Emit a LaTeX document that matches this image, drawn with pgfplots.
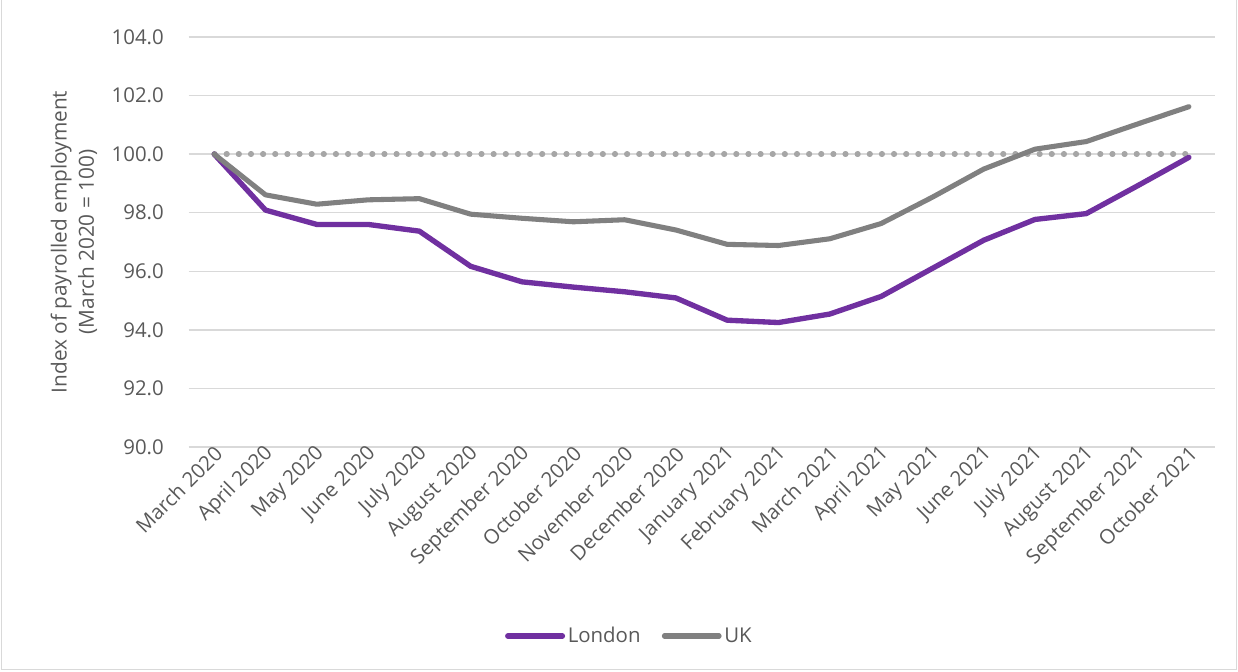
\documentclass[border=0pt]{standalone}
\usepackage{fontspec}
\setmainfont{Open Sans}
\usepackage{pgfplots}
\pgfplotsset{compat=1.18}
\definecolor{lonpurple}{HTML}{7030A0}
\definecolor{ukgrey}{HTML}{808080}
\definecolor{dotgrey}{HTML}{A6A6A6}
\definecolor{gridgrey}{HTML}{D9D9D9}
\definecolor{txtgrey}{HTML}{595959}
\begin{document}
\begin{tikzpicture}
\useasboundingbox (-141.4pt,-168pt) rectangle (787.1pt,335.25pt);
\draw[gridgrey, line width=0.75pt] (-140.4pt,-166.5pt) rectangle (786.1pt,340pt);
\begin{axis}[
  at={(0pt,0pt)}, anchor=south west,
  scale only axis,
  width=769.5pt, height=307.5pt,
  xmin=-0.5, xmax=19.5,
  ymin=90, ymax=104,
  ytick={90,92,...,104},
  xtick={0,...,19},
  xticklabels={March 2020,April 2020,May 2020,June 2020,July 2020,August 2020,September 2020,October 2020,November 2020,December 2020,January 2021,February 2021,March 2021,April 2021,May 2021,June 2021,July 2021,August 2021,September 2021,October 2021},
  axis line style={draw=none},
  major tick length=0pt,
  ymajorgrids,
  grid style={gridgrey, line width=1pt},
  tick label style={font=\fontsize{15.3}{18}\selectfont, text=txtgrey},
  /pgf/number format/assume math mode=true,
  yticklabel={\pgfmathprintnumber[fixed,fixed zerofill,precision=1]{\tick}},
  yticklabel style={anchor=east, xshift=-15pt},
  xticklabel style={rotate=45, anchor=east, yshift=-4pt, xshift=4pt},
  ylabel={Index of payrolled employment\\(March 2020 = 100)},
  every axis y label/.style={at={(rel axis cs:0,0.5)}, xshift=-86pt, rotate=90, anchor=center, align=center, font=\fontsize{15.6}{20.5}\selectfont, text=txtgrey},
  legend columns=2,
  legend style={draw=none, at={(axis description cs:0.43,0)}, anchor=center, yshift=-141.75pt, font=\fontsize{15.3}{18}\selectfont, text=txtgrey, /tikz/every even column/.append style={column sep=14pt}, inner sep=0pt},
  legend image code/.code={\draw[#1, line cap=round] (0pt,0pt) -- (41pt,0pt);},
  clip=false,
]
\addplot[dotgrey, line width=4pt, line cap=round, dash pattern=on 0.6pt off 8.5pt, forget plot] coordinates {(0,100) (19,100)};
\addplot[lonpurple, line width=4pt, line join=round, line cap=round] coordinates {
(0,100) (1,98.09) (2,97.60) (3,97.60) (4,97.37) (5,96.17) (6,95.64) (7,95.46) (8,95.30) (9,95.09)
(10,94.33) (11,94.25) (12,94.54) (13,95.14) (14,96.10) (15,97.06) (16,97.77) (17,97.97) (18,98.92) (19,99.89)};
\addlegendentry{London}
\addplot[ukgrey, line width=3.8pt, line join=round, line cap=round] coordinates {
(0,100) (1,98.61) (2,98.29) (3,98.44) (4,98.48) (5,97.95) (6,97.81) (7,97.69) (8,97.76) (9,97.41)
(10,96.92) (11,96.88) (12,97.11) (13,97.63) (14,98.53) (15,99.49) (16,100.17) (17,100.43) (18,101.03) (19,101.62)};
\addlegendentry{UK}
\end{axis}
\end{tikzpicture}
\end{document}
